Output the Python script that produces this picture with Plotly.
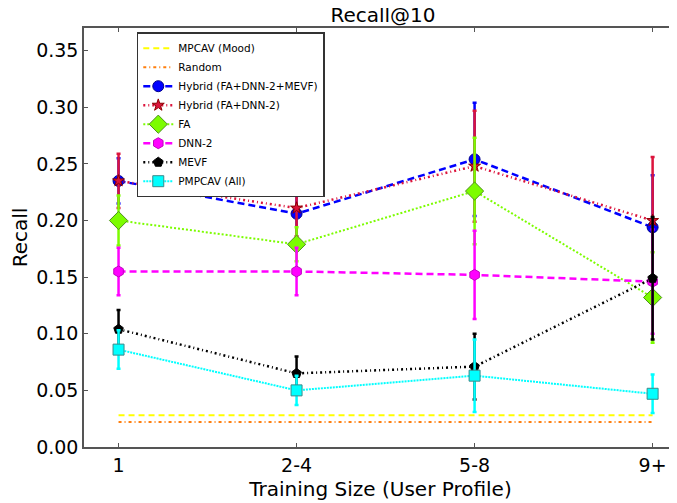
import plotly.graph_objects as go

categories = ["1", "2-4", "5-8", "9+"]

mpcav_mood = [0.028, 0.028, 0.028, 0.028]
random_rec = [0.022, 0.022, 0.022, 0.022]

hybrid_all = [0.235, 0.206, 0.254, 0.194]
hybrid_all_err = [0.020, 0.025, 0.050, 0.046]

hybrid_fa_dnn = [0.235, 0.211, 0.248, 0.200]
hybrid_fa_dnn_err = [0.024, 0.025, 0.049, 0.056]

fa = [0.200, 0.179, 0.226, 0.132]
fa_err = [0.022, 0.015, 0.047, 0.040]

dnn2 = [0.155, 0.155, 0.152, 0.146]
dnn2_err = [0.021, 0.021, 0.039, 0.046]

mevf = [0.104, 0.065, 0.071, 0.149]
mevf_err = [0.017, 0.015, 0.029, 0.054]

pmpcav = [0.086, 0.050, 0.063, 0.047]
pmpcav_err = [0.017, 0.013, 0.032, 0.017]

series = [
    dict(name="MPCAV (Mood)", y=mpcav_mood, err=None, color="#FFFF00", dash="6px,4px",
         symbol=None, size=0, edge=None, width=2),
    dict(name="Random", y=random_rec, err=None, color="#FF7F0E", dash="3px,3px,1px,3px",
         symbol=None, size=0, edge=None, width=2),
    dict(name="Hybrid (FA+DNN-2+MEVF)", y=hybrid_all, err=hybrid_all_err, color="#0000FF",
         dash="7px,4px", symbol="circle", size=11, edge="#00008B", width=2.5),
    dict(name="Hybrid (FA+DNN-2)", y=hybrid_fa_dnn, err=hybrid_fa_dnn_err, color="#DC143C",
         dash="2px,3px,1px,3px", symbol="star", size=9, edge="#8B0000", width=2.5),
    dict(name="FA", y=fa, err=fa_err, color="#7CFC00", dash="2px,2px", symbol="diamond",
         size=14, edge="#4E8F1E", width=2),
    dict(name="DNN-2", y=dnn2, err=dnn2_err, color="#FF00FF", dash="7px,4px",
         symbol="hexagon", size=11, edge="#C000C0", width=2.5),
    dict(name="MEVF", y=mevf, err=mevf_err, color="#000000", dash="2px,3px,1px,3px",
         symbol="pentagon", size=10, edge="#000000", width=2.5),
    dict(name="PMPCAV (All)", y=pmpcav, err=pmpcav_err, color="#00FFFF", dash="2px,1px",
         symbol="square", size=11, edge="#3A8A8A", width=2),
]

fig = go.Figure()
for s in series:
    kw = dict(
        x=categories, y=s["y"], name=s["name"],
        line=dict(color=s["color"], dash=s["dash"], width=s["width"]),
    )
    if s["symbol"]:
        kw["mode"] = "lines+markers"
        kw["marker"] = dict(symbol=s["symbol"], size=s["size"], color=s["color"],
                            line=dict(color=s["edge"], width=1))
        kw["error_y"] = dict(type="data", array=s["err"], visible=True,
                             color=s["color"], thickness=2.5, width=2)
    else:
        kw["mode"] = "lines"
    fig.add_trace(go.Scatter(**kw))

# page body has an 8px margin, so the figure is sized/offset to compensate
fig.update_layout(
    width=669, height=495,
    margin=dict(l=76, r=0, t=20, b=56, autoexpand=False),
    paper_bgcolor="white", plot_bgcolor="white",
    font=dict(family="DejaVu Sans", color="black"),
    title=dict(text="Recall@10", x=0.5605, xref="container", xanchor="center",
               y=1.0, yref="container", yanchor="top", pad=dict(t=0, b=0),
               font=dict(size=20, family="DejaVu Sans", color="black")),
    showlegend=True,
    legend=dict(x=0.089, y=0.99, xanchor="left", yanchor="top",
                bgcolor="white", bordercolor="#333333", borderwidth=1.5,
                font=dict(size=10.5, family="DejaVu Sans", color="black"),
                tracegroupgap=0, itemwidth=30),
)
fig.update_xaxes(
    type="category", range=[-0.194, 3.137], automargin=False,
    showline=True, linecolor="#555555", linewidth=1.5, mirror="ticks",
    ticks="inside", ticklen=4, tickcolor="#555555",
    showgrid=False, zeroline=False,
    tickfont=dict(size=19, family="DejaVu Sans", color="black"),
    title=dict(text="Training Size (User Profile)", standoff=7,
               font=dict(size=20, family="DejaVu Sans", color="black")),
)
fig.update_yaxes(
    range=[0, 0.37], tickvals=[0, 0.05, 0.10, 0.15, 0.20, 0.25, 0.30, 0.35],
    tickformat=".2f", automargin=False,
    showline=True, linecolor="#555555", linewidth=1.5, mirror=False,
    ticks="inside", ticklen=4, tickcolor="#555555",
    showgrid=False, zeroline=False,
    tickfont=dict(size=19, family="DejaVu Sans", color="black"),
    title=dict(text="Recall", standoff=6,
               font=dict(size=20, family="DejaVu Sans", color="black")),
)

fig.write_html("out.html")
